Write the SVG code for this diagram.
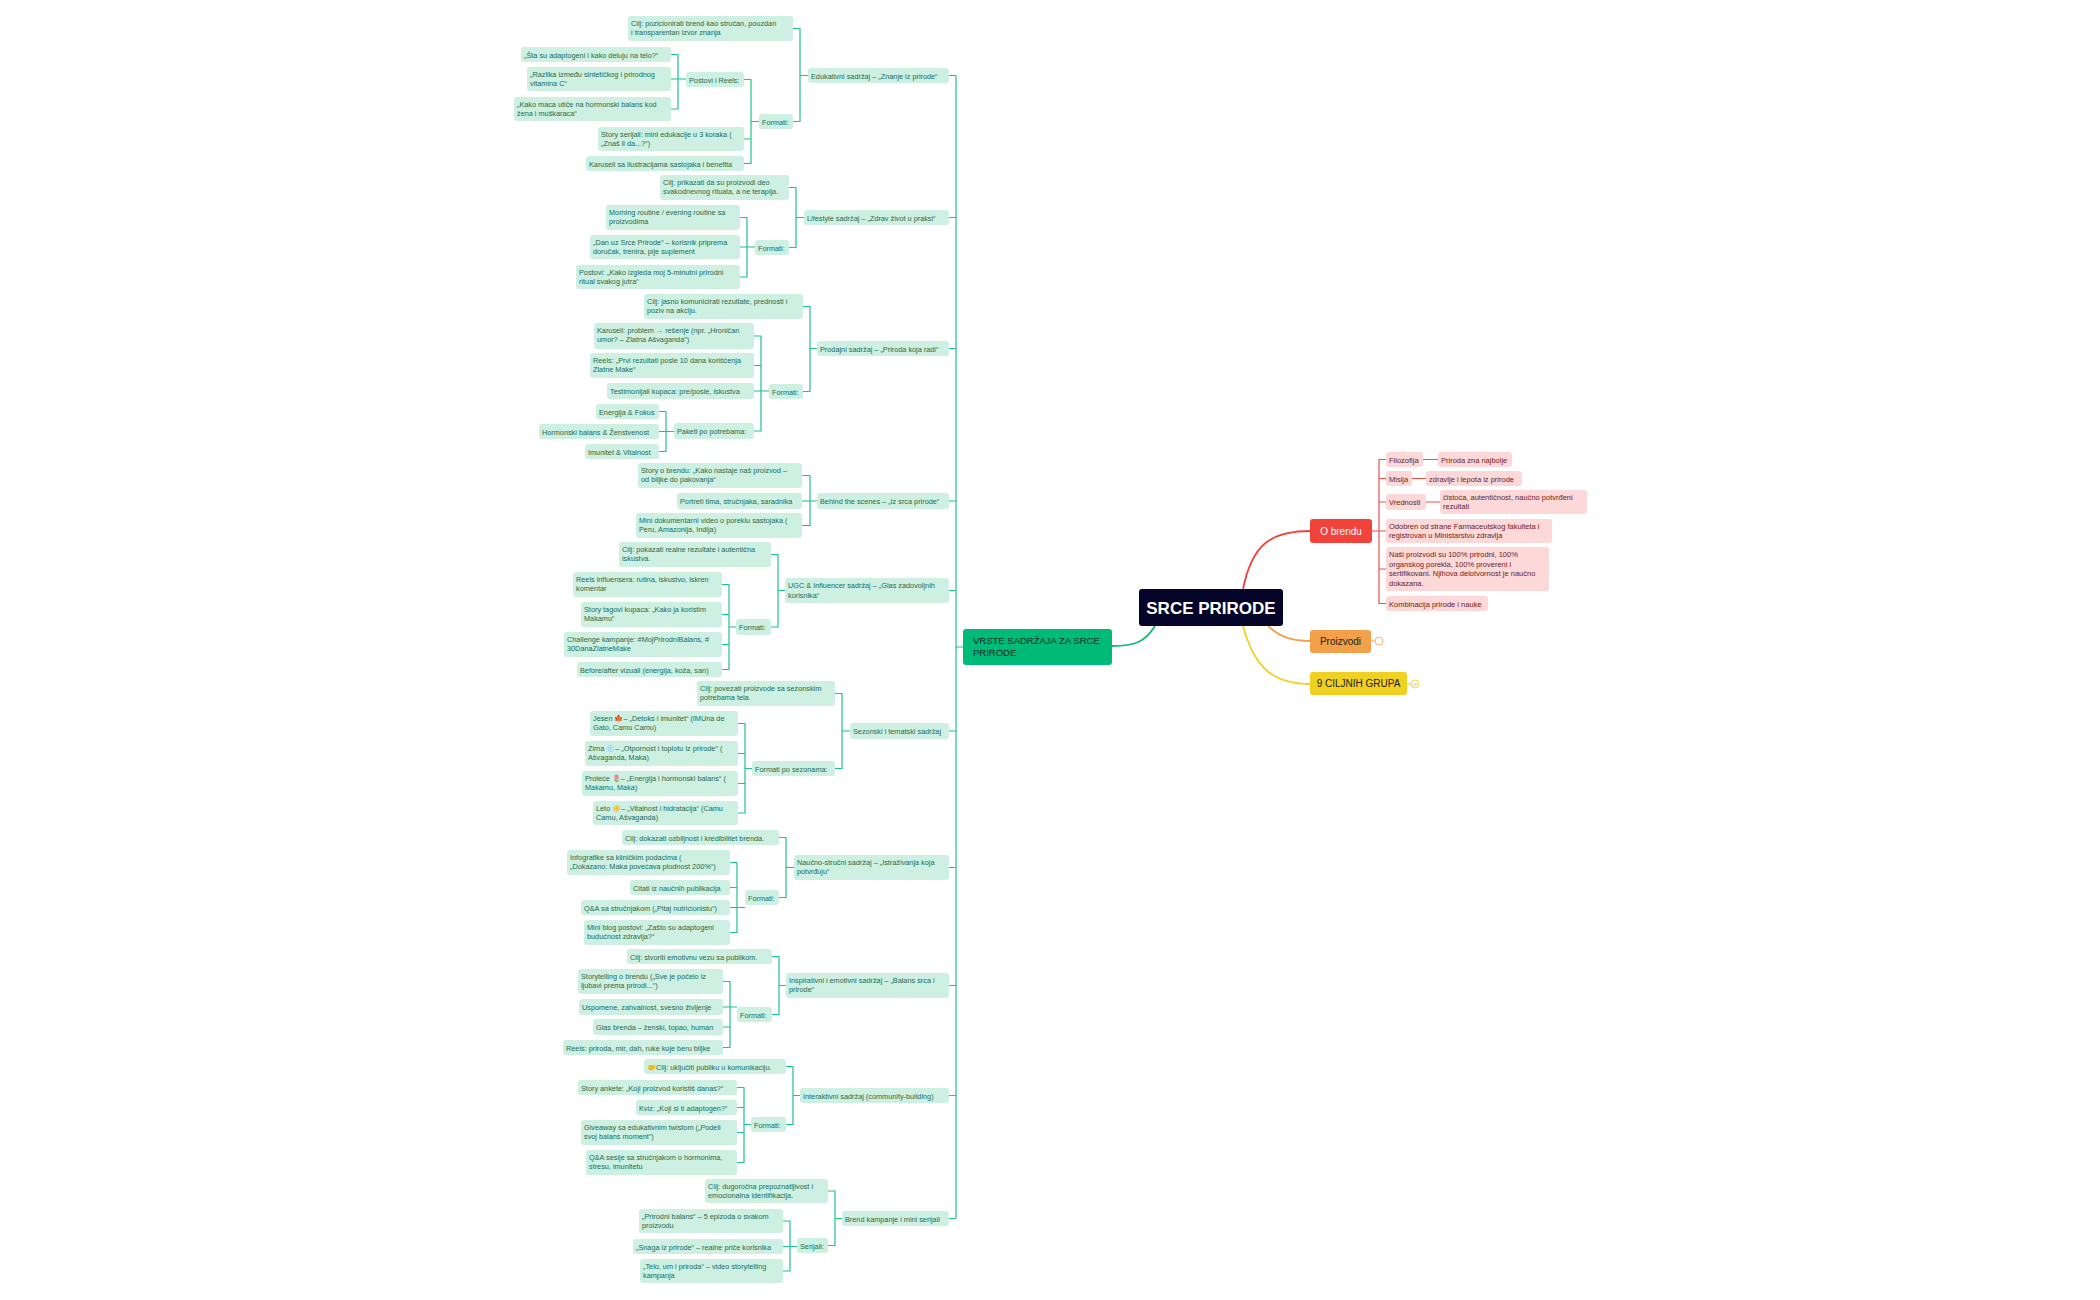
<svg xmlns="http://www.w3.org/2000/svg" width="2100" height="1300" viewBox="0 0 2100 1300">
<style>
.n rect{fill:#cdf0e2}
.n text{font-family:"Liberation Sans",Arial,sans-serif;font-size:7.3px;fill:#1e6b50}
.p rect{fill:#fdd8d8}
.p text{font-family:"Liberation Sans",Arial,sans-serif;font-size:7.5px;fill:#6b1c1c}
#conn path{fill:none;stroke:#1fc28a;stroke-width:1.2;stroke-linejoin:round}
#conn .r{stroke:#f0504a}
#conn .o{stroke:#f2a04a;stroke-width:1.8}
#conn .y{stroke:#f0d020;stroke-width:1.8}
#conn .rc{stroke:#f0433b;stroke-width:1.8}
#conn .gc{stroke:#11b97a;stroke-width:1.8}
.big{font-family:"Liberation Sans",Arial,sans-serif}
</style>
<rect width="2100" height="1300" fill="#ffffff"/>
<g id="conn">
<path d="M956 75.5V1218.5"/>
<path d="M949 75.5H956M949 217.5H956M949 348.5H956M949 501H956M949 590.5H956M949 731H956M949 867.5H956M949 985.5H956M949 1095.5H956M949 1218.5H956M956 647H963"/>
<path d="M793 28.5H800V121.5H793M800 75.5H808"/>
<path d="M744 79.5H751V163.5H744M744 139H751M751 121.5H759"/>
<path d="M671 54.5H678V109H671M671 79H686"/>
<path d="M789 187.5H796V247.5H789M796 217.5H804"/>
<path d="M740 217.5H747V277H740M740 247H755"/>
<path d="M803 306.5H810V391.5H803M810 348.5H817"/>
<path d="M754 336H761V431H754M754 365.5H761M754 391H769"/>
<path d="M659 411.5H666V451.5H659M659 431.5H674"/>
<path d="M802 475.5H810V525.5H802M802 501H817"/>
<path d="M771 554.5H778V627H771M778 590.5H785"/>
<path d="M722 584.5H729V669.5H722M722 614.5H729M722 644.5H729M729 627H736"/>
<path d="M835 693.5H842V768.5H835M842 731H850"/>
<path d="M738 723.5H745V813H738M738 753.5H745M738 783.5H745M745 768.5H752"/>
<path d="M779 837.5H786V897.5H779M786 867.5H794"/>
<path d="M730 862.5H737V932.5H730M730 887.5H737M730 907.5H745"/>
<path d="M772 956.5H779V1014.5H772M779 985.5H786"/>
<path d="M723 981.5H730V1047.5H723M723 1007H737M723 1027H730"/>
<path d="M786 1066.5H793V1124.5H786M793 1095.5H800"/>
<path d="M737 1087.5H744V1162.5H737M737 1107.5H744M737 1132.5H744M744 1124.5H751"/>
<path d="M828 1191H835V1245.5H828M835 1218.5H842"/>
<path d="M783 1221H790V1271H783M783 1246.5H797"/>
<path class="gc" d="M1155 626C1145 642 1135 646 1112 646"/>
<path class="rc" d="M1243 589C1252 545 1270 531 1310 531"/>
<path class="o" d="M1268 626C1280 637 1292 641 1310 641"/>
<path class="y" d="M1243 626C1255 670 1275 684 1310 684"/>
<path class="r" d="M1372 531H1379M1386 459.5H1379V603.5H1386M1379 478.5H1386M1379 502H1386M1379 531H1386M1379 569H1386M1423 459.5H1438M1412 478.5H1426M1426 502H1440"/>
<path class="o" style="stroke-width:1" d="M1371 641H1375"/>
<path class="y" style="stroke-width:1" d="M1407 684H1411"/>
</g>
<g id="center"><rect x="1139" y="589" width="144" height="37" rx="3" fill="#05052a"/><text class="big" x="1211" y="613.5" font-size="17" font-weight="bold" fill="#fff" text-anchor="middle">SRCE PRIRODE</text></g>
<g id="vrste"><rect x="963" y="629" width="149" height="36" rx="3" fill="#00bb77"/><text class="big" x="973" y="644" font-size="9.5" fill="#0a2a1e">VRSTE SADRŽAJA ZA SRCE<tspan x="973" y="656">PRIRODE</tspan></text></g>
<g id="obrendu"><rect x="1310" y="519" width="62" height="24" rx="3" fill="#f2433b"/><text class="big" x="1341" y="534.5" font-size="10" fill="#fff" text-anchor="middle">O brendu</text></g>
<g id="proizvodi"><rect x="1310" y="630" width="61" height="23" rx="3" fill="#f2a04a"/><text class="big" x="1340.5" y="645" font-size="10" fill="#222" text-anchor="middle">Proizvodi</text><circle cx="1379" cy="641" r="4" fill="#fff" stroke="#f2a04a" stroke-width="0.8"/></g>
<g id="ciljne"><rect x="1310" y="672" width="97" height="23" rx="3" fill="#f0d020"/><text class="big" x="1358.5" y="687" font-size="10" fill="#222" text-anchor="middle">9 CILJNIH GRUPA</text><circle cx="1415" cy="684" r="4" fill="#fff" stroke="#f0d020" stroke-width="0.8"/><text class="big" x="1415" y="686" font-size="4" fill="#c8a800" text-anchor="middle">10</text></g>
<g id="filozofija" class="p"><rect x="1386" y="452" width="37" height="15" rx="3"/><text x="1389" y="462.5">Filozofija</text></g>
<g id="priroda" class="p"><rect x="1438" y="452" width="74" height="15" rx="3"/><text x="1441" y="462.5">Priroda zna najbolje</text></g>
<g id="misija" class="p"><rect x="1386" y="471" width="26" height="15" rx="3"/><text x="1389" y="481.5">Misija</text></g>
<g id="zdravlje" class="p"><rect x="1426" y="471" width="96" height="15" rx="3"/><text x="1429" y="481.5">zdravlje i lepota iz prirode</text></g>
<g id="vrednosti" class="p"><rect x="1386" y="494" width="40" height="16" rx="3"/><text x="1389" y="504.5">Vrednosti</text></g>
<g id="cistoca" class="p"><rect x="1440" y="490" width="147" height="24" rx="3"/><text x="1443" y="499.5">čistoća, autentičnost, naučno potvrđeni<tspan x="1443" y="509">rezultati</tspan></text></g>
<g id="odobren" class="p"><rect x="1386" y="519" width="166" height="24" rx="3"/><text x="1389" y="528.5">Odobren od strane Farmaceutskog fakulteta i<tspan x="1389" y="538">registrovan u Ministarstvu zdravlja</tspan></text></g>
<g id="nasi" class="p"><rect x="1386" y="547" width="163" height="44" rx="3"/><text x="1389" y="557"> Naši proizvodi su 100% prirodni, 100%<tspan x="1389" y="566.5">organskog porekla, 100% provereni i</tspan><tspan x="1389" y="576">sertifikovani. Njihova delotvornost je naučno</tspan><tspan x="1389" y="585.5">dokazana.</tspan></text></g>
<g id="kombinacija" class="p"><rect x="1386" y="596" width="102" height="15" rx="3"/><text x="1389" y="606.5">Kombinacija prirode i nauke</text></g>

<g id="edu" class="n"><rect x="808" y="68" width="141" height="15" rx="3"/><text x="811" y="78.5">Edukativni sadržaj – „Znanje iz prirode“</text></g>
<g id="edu-cilj" class="n"><rect x="628" y="16" width="165" height="25" rx="3"/><text x="631" y="25.5">Cilj: pozicionirati brend kao stručan, pouzdan<tspan x="631" y="34.5">i transparentan izvor znanja</tspan></text></g>
<g id="edu-formati" class="n"><rect x="759" y="114" width="34" height="15" rx="3"/><text x="762" y="124.5">Formati:</text></g>
<g id="edu-postovi" class="n"><rect x="686" y="72" width="58" height="15" rx="3"/><text x="689" y="82.5">Postovi i Reels:</text></g>
<g id="edu-p1" class="n"><rect x="521" y="47" width="150" height="15" rx="3"/><text x="524" y="57.5">„Šta su adaptogeni i kako deluju na telo?“</text></g>
<g id="edu-p2" class="n"><rect x="527" y="67" width="144" height="24" rx="3"/><text x="530" y="76.5">„Razlika između sintetičkog i prirodnog<tspan x="530" y="85.5">vitamina C“</tspan></text></g>
<g id="edu-p3" class="n"><rect x="514" y="97" width="157" height="24" rx="3"/><text x="517" y="106.5">„Kako maca utiče na hormonski balans kod<tspan x="517" y="115.5">žena i muškaraca“</tspan></text></g>
<g id="edu-story" class="n"><rect x="598" y="127" width="146" height="24" rx="3"/><text x="601" y="136.5">Story serijali: mini edukacije u 3 koraka (<tspan x="601" y="145.5">„Znaš li da...?“)</tspan></text></g>
<g id="edu-karuseli" class="n"><rect x="586" y="156" width="158" height="15" rx="3"/><text x="589" y="166.5">Karuseli sa ilustracijama sastojaka i benefita</text></g>

<g id="life" class="n"><rect x="804" y="210" width="145" height="15" rx="3"/><text x="807" y="220.5">Lifestyle sadržaj – „Zdrav život u praksi“</text></g>
<g id="life-cilj" class="n"><rect x="660" y="175" width="129" height="25" rx="3"/><text x="663" y="184.5">Cilj: prikazati da su proizvodi deo<tspan x="663" y="193.5">svakodnevnog rituala, a ne terapija.</tspan></text></g>
<g id="life-formati" class="n"><rect x="755" y="240" width="34" height="15" rx="3"/><text x="758" y="250.5">Formati:</text></g>
<g id="life-1" class="n"><rect x="606" y="205" width="134" height="25" rx="3"/><text x="609" y="214.5">Morning routine / evening routine sa<tspan x="609" y="223.5">proizvodima</tspan></text></g>
<g id="life-2" class="n"><rect x="590" y="235" width="150" height="24" rx="3"/><text x="593" y="244.5">„Dan uz Srce Prirode“ – korisnik priprema<tspan x="593" y="253.5">doručak, trenira, pije suplement</tspan></text></g>
<g id="life-3" class="n"><rect x="576" y="265" width="164" height="24" rx="3"/><text x="579" y="274.5">Postovi: „Kako izgleda moj 5-minutni prirodni<tspan x="579" y="283.5">ritual svakog jutra“</tspan></text></g>

<g id="prod" class="n"><rect x="817" y="341" width="132" height="15" rx="3"/><text x="820" y="351.5">Prodajni sadržaj – „Priroda koja radi“</text></g>
<g id="prod-cilj" class="n"><rect x="644" y="294" width="159" height="25" rx="3"/><text x="647" y="303.5">Cilj: jasno komunicirati rezultate, prednosti i<tspan x="647" y="312.5">poziv na akciju.</tspan></text></g>
<g id="prod-formati" class="n"><rect x="769" y="384" width="34" height="15" rx="3"/><text x="772" y="394.5">Formati:</text></g>
<g id="prod-1" class="n"><rect x="594" y="323" width="160" height="26" rx="3"/><text x="597" y="333">Karuseli: problem → rešenje (npr. „Hroničan<tspan x="597" y="342">umor? – Zlatna Ašvaganda“)</tspan></text></g>
<g id="prod-2" class="n"><rect x="590" y="353" width="164" height="25" rx="3"/><text x="593" y="362.5">Reels: „Prvi rezultati posle 10 dana korišćenja<tspan x="593" y="371.5">Zlatne Make“</tspan></text></g>
<g id="prod-3" class="n"><rect x="607" y="383" width="147" height="16" rx="3"/><text x="610" y="393.5">Testimonijali kupaca: pre/posle, iskustva</text></g>
<g id="prod-paketi" class="n"><rect x="674" y="423" width="80" height="16" rx="3"/><text x="677" y="433.5">Paketi po potrebama:</text></g>
<g id="pak-1" class="n"><rect x="596" y="404" width="63" height="15" rx="3"/><text x="599" y="414.5">Energija &amp; Fokus</text></g>
<g id="pak-2" class="n"><rect x="539" y="424" width="120" height="15" rx="3"/><text x="542" y="434.5">Hormonski balans &amp; Ženstvenost</text></g>
<g id="pak-3" class="n"><rect x="585" y="444" width="74" height="15" rx="3"/><text x="588" y="454.5">Imunitet &amp; Vitalnost</text></g>

<g id="behind" class="n"><rect x="817" y="493" width="132" height="16" rx="3"/><text x="820" y="503.5">Behind the scenes – „Iz srca prirode“</text></g>
<g id="beh-1" class="n"><rect x="638" y="463" width="164" height="25" rx="3"/><text x="641" y="472.5">Story o brendu: „Kako nastaje naš proizvod –<tspan x="641" y="481.5">od biljke do pakovanja“</tspan></text></g>
<g id="beh-2" class="n"><rect x="677" y="493" width="125" height="16" rx="3"/><text x="680" y="503.5">Portreti tima, stručnjaka, saradnika</text></g>
<g id="beh-3" class="n"><rect x="636" y="513" width="166" height="25" rx="3"/><text x="639" y="522.5">Mini dokumentarni video o poreklu sastojaka (<tspan x="639" y="531.5">Peru, Amazonija, Indija)</tspan></text></g>

<g id="ugc" class="n"><rect x="785" y="578" width="164" height="25" rx="3"/><text x="788" y="587.5">UGC &amp; Influencer sadržaj – „Glas zadovoljnih<tspan x="788" y="597.5">korisnika“</tspan></text></g>
<g id="ugc-cilj" class="n"><rect x="619" y="542" width="152" height="25" rx="3"/><text x="622" y="551.5">Cilj: pokazati realne rezultate i autentična<tspan x="622" y="560.5">iskustva.</tspan></text></g>
<g id="ugc-formati" class="n"><rect x="736" y="619" width="35" height="16" rx="3"/><text x="739" y="629.5">Formati:</text></g>
<g id="ugc-1" class="n"><rect x="573" y="572" width="149" height="25" rx="3"/><text x="576" y="581.5">Reels influensera: rutina, iskustvo, iskren<tspan x="576" y="590.5">komentar</tspan></text></g>
<g id="ugc-2" class="n"><rect x="581" y="602" width="141" height="25" rx="3"/><text x="584" y="611.5">Story tagovi kupaca: „Kako ja koristim<tspan x="584" y="620.5">Makamu“</tspan></text></g>
<g id="ugc-3" class="n"><rect x="564" y="632" width="158" height="25" rx="3"/><text x="567" y="641.5">Challenge kampanje: #MojPrirodniBalans, #<tspan x="567" y="650.5">30DanaZlatneMake</tspan></text></g>
<g id="ugc-4" class="n"><rect x="577" y="662" width="145" height="15" rx="3"/><text x="580" y="672.5">Before/after vizuali (energija, koža, san)</text></g>

<g id="sez" class="n"><rect x="850" y="723" width="99" height="16" rx="3"/><text x="853" y="733.5">Sezonski i tematski sadržaj</text></g>
<g id="sez-cilj" class="n"><rect x="697" y="681" width="138" height="25" rx="3"/><text x="700" y="690.5">Cilj: povezati proizvode sa sezonskim<tspan x="700" y="699.5">potrebama tela.</tspan></text></g>
<g id="sez-formati" class="n"><rect x="752" y="761" width="83" height="15" rx="3"/><text x="755" y="771.5">Formati po sezonama:</text></g>
<g id="sez-1" class="n"><rect x="590" y="711" width="148" height="25" rx="3"/><text x="593" y="720.5">Jesen 🍁– „Detoks i imunitet“ (IMUna de<tspan x="593" y="729.5">Gato, Camu Camu)</tspan></text></g>
<g id="sez-2" class="n"><rect x="585" y="741" width="153" height="25" rx="3"/><text x="588" y="750.5">Zima ❄️– „Otpornost i toplotu iz prirode“ (<tspan x="588" y="759.5">Ašvaganda, Maka)</tspan></text></g>
<g id="sez-3" class="n"><rect x="582" y="771" width="156" height="25" rx="3"/><text x="585" y="780.5">Proleće 🌷– „Energija i hormonski balans“ (<tspan x="585" y="789.5">Makamu, Maka)</tspan></text></g>
<g id="sez-4" class="n"><rect x="593" y="801" width="145" height="24" rx="3"/><text x="596" y="810.5">Leto ☀️– „Vitalnost i hidratacija“ (Camu<tspan x="596" y="819.5">Camu, Ašvaganda)</tspan></text></g>

<g id="nau" class="n"><rect x="794" y="855" width="155" height="25" rx="3"/><text x="797" y="864.5">Naučno-stručni sadržaj – „Istraživanja koja<tspan x="797" y="874">potvrđuju“</tspan></text></g>
<g id="nau-cilj" class="n"><rect x="622" y="830" width="157" height="15" rx="3"/><text x="625" y="840.5">Cilj: dokazati ozbiljnost i kredibilitet brenda.</text></g>
<g id="nau-formati" class="n"><rect x="745" y="890" width="34" height="15" rx="3"/><text x="748" y="900.5">Formati:</text></g>
<g id="nau-1" class="n"><rect x="567" y="850" width="163" height="25" rx="3"/><text x="570" y="859.5">Infografike sa kliničkim podacima (<tspan x="570" y="868.5">„Dokazano: Maka povećava plodnost 200%“)</tspan></text></g>
<g id="nau-2" class="n"><rect x="630" y="880" width="100" height="15" rx="3"/><text x="633" y="890.5">Citati iz naučnih publikacija</text></g>
<g id="nau-3" class="n"><rect x="581" y="900" width="149" height="15" rx="3"/><text x="584" y="910.5">Q&amp;A sa stručnjakom („Pitaj nutricionistu“)</text></g>
<g id="nau-4" class="n"><rect x="584" y="920" width="146" height="25" rx="3"/><text x="587" y="929.5">Mini blog postovi: „Zašto su adaptogeni<tspan x="587" y="938.5">budućnost zdravlja?“</tspan></text></g>

<g id="insp" class="n"><rect x="786" y="973" width="163" height="25" rx="3"/><text x="789" y="982.5">Inspirativni i emotivni sadržaj – „Balans srca i<tspan x="789" y="991.5">prirode“</tspan></text></g>
<g id="insp-cilj" class="n"><rect x="627" y="949" width="145" height="15" rx="3"/><text x="630" y="959.5">Cilj: stvoriti emotivnu vezu sa publikom.</text></g>
<g id="insp-formati" class="n"><rect x="737" y="1007" width="35" height="15" rx="3"/><text x="740" y="1017.5">Formati:</text></g>
<g id="insp-1" class="n"><rect x="578" y="969" width="145" height="25" rx="3"/><text x="581" y="978.5">Storytelling o brendu („Sve je počelo iz<tspan x="581" y="987.5">ljubavi prema prirodi...“)</tspan></text></g>
<g id="insp-2" class="n"><rect x="579" y="999" width="144" height="16" rx="3"/><text x="582" y="1009.5">Uspomene, zahvalnost, svesno življenje</text></g>
<g id="insp-3" class="n"><rect x="593" y="1019" width="130" height="16" rx="3"/><text x="596" y="1029.5">Glas brenda – ženski, topao, human</text></g>
<g id="insp-4" class="n"><rect x="563" y="1040" width="160" height="15" rx="3"/><text x="566" y="1050.5">Reels: priroda, mir, dah, ruke koje beru biljke</text></g>

<g id="inter" class="n"><rect x="800" y="1088" width="149" height="15" rx="3"/><text x="803" y="1098.5">Interaktivni sadržaj (community-building)</text></g>
<g id="inter-cilj" class="n"><rect x="644" y="1059" width="142" height="15" rx="3"/><text x="647" y="1069.5">🤝Cilj: uključiti publiku u komunikaciju.</text></g>
<g id="inter-formati" class="n"><rect x="751" y="1117" width="35" height="15" rx="3"/><text x="754" y="1127.5">Formati:</text></g>
<g id="inter-1" class="n"><rect x="578" y="1080" width="159" height="15" rx="3"/><text x="581" y="1090.5">Story ankete: „Koji proizvod koristiš danas?“</text></g>
<g id="inter-2" class="n"><rect x="636" y="1100" width="101" height="15" rx="3"/><text x="639" y="1110.5">Kviz: „Koji si ti adaptogen?“</text></g>
<g id="inter-3" class="n"><rect x="581" y="1120" width="156" height="25" rx="3"/><text x="584" y="1129.5">Giveaway sa edukativnim twistom („Podeli<tspan x="584" y="1138.5">svoj balans moment“)</tspan></text></g>
<g id="inter-4" class="n"><rect x="586" y="1150" width="151" height="25" rx="3"/><text x="589" y="1159.5">Q&amp;A sesije sa stručnjakom o hormonima,<tspan x="589" y="1168.5">stresu, imunitetu</tspan></text></g>

<g id="brend" class="n"><rect x="842" y="1211" width="107" height="15" rx="3"/><text x="845" y="1221.5">Brend kampanje i mini serijali</text></g>
<g id="brend-cilj" class="n"><rect x="705" y="1179" width="123" height="24" rx="3"/><text x="708" y="1188.5">Cilj: dugoročna prepoznatljivost i<tspan x="708" y="1197.5">emocionalna identifikacija.</tspan></text></g>
<g id="brend-serijali" class="n"><rect x="797" y="1238" width="31" height="15" rx="3"/><text x="800" y="1248.5">Serijali:</text></g>
<g id="ser-1" class="n"><rect x="639" y="1209" width="144" height="24" rx="3"/><text x="642" y="1218.5">„Prirodni balans“ – 5 epizoda o svakom<tspan x="642" y="1227.5">proizvodu</tspan></text></g>
<g id="ser-2" class="n"><rect x="633" y="1239" width="150" height="15" rx="3"/><text x="636" y="1249.5">„Snaga iz prirode“ – realne priče korisnika</text></g>
<g id="ser-3" class="n"><rect x="640" y="1259" width="143" height="24" rx="3"/><text x="643" y="1268.5">„Telo, um i priroda“ – video storytelling<tspan x="643" y="1277.5">kampanja</tspan></text></g>
</svg>
